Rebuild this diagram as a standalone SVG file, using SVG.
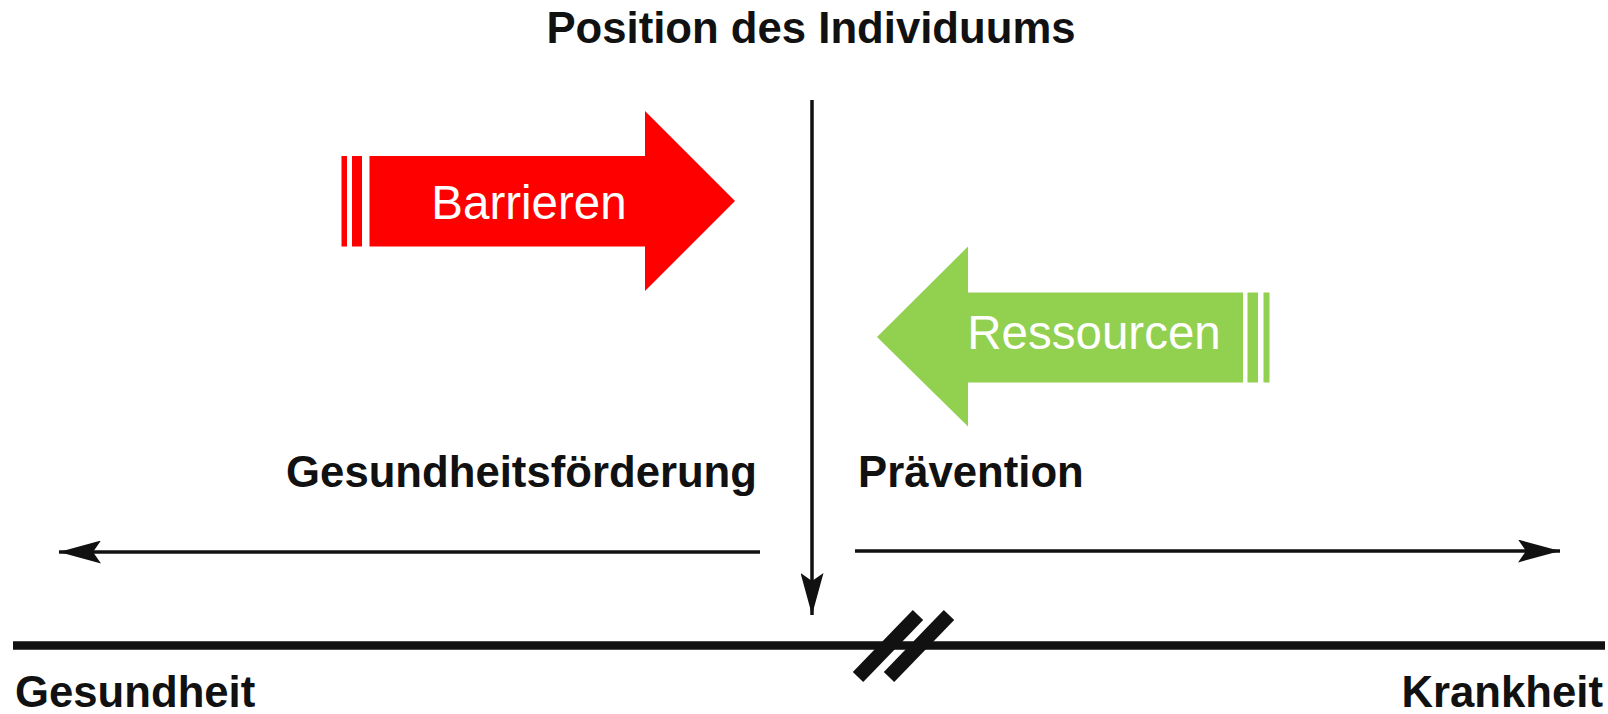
<svg xmlns="http://www.w3.org/2000/svg" width="1608" height="714" viewBox="0 0 1608 714">
<style>
.lbl{font-family:"Liberation Sans",Arial,sans-serif;font-weight:bold;font-size:43.7px;fill:#111}
.wht{font-family:"Liberation Sans",Arial,sans-serif;font-size:47.5px;fill:#fff}
.ln{stroke:#111;stroke-width:3.5;fill:none}
</style>
<defs>
<marker id="ahb" viewBox="0 0 42 23" refX="42" refY="11.5" markerWidth="42" markerHeight="23" markerUnits="userSpaceOnUse" orient="auto">
<path d="M0,0 L42,11.5 L0,23 L8,11.5 Z" fill="#111"/>
</marker>
</defs>
<rect width="1608" height="714" fill="#fff"/>
<g id="title"><text class="lbl" x="811" y="43" text-anchor="middle">Position des Individuums</text></g>
<g id="barrieren">
<rect x="341.5" y="156" width="5.5" height="90.5" fill="#ff0000"/>
<rect x="352" y="156" width="10" height="90.5" fill="#ff0000"/>
<path d="M369.5,156 H645 V111 L735,201 L645,291 V246.5 H369.5 Z" fill="#ff0000"/>
<text class="wht" x="529" y="218.5" text-anchor="middle">Barrieren</text>
</g>
<g id="ressourcen">
<path d="M1243,292.5 H968 V246.5 L877,337 L968,426.5 V382.5 H1243 Z" fill="#92d050"/>
<rect x="1247.5" y="292.5" width="10.5" height="90" fill="#92d050"/>
<rect x="1263.5" y="292.5" width="6" height="90" fill="#92d050"/>
<text class="wht" x="1094" y="349" text-anchor="middle">Ressourcen</text>
</g>
<g id="gesundheitsfoerderung"><text class="lbl" x="757" y="487" text-anchor="end">Gesundheitsförderung</text></g>
<g id="praevention"><text class="lbl" x="858" y="487">Prävention</text></g>
<g id="gesundheit"><text class="lbl" x="15" y="707">Gesundheit</text></g>
<g id="krankheit"><text class="lbl" x="1603" y="707" text-anchor="end">Krankheit</text></g>
<g id="axis">
<line x1="13" y1="645.5" x2="1605" y2="645.5" stroke="#111" stroke-width="8.5"/>
<line x1="858" y1="677" x2="918" y2="615" stroke="#111" stroke-width="14.5"/>
<line x1="889" y1="677" x2="949" y2="615" stroke="#111" stroke-width="14.5"/>
</g>
<g id="connectors">
<line class="ln" x1="812" y1="100" x2="812" y2="615" marker-end="url(#ahb)"/>
<line class="ln" x1="760" y1="552" x2="59" y2="552" marker-end="url(#ahb)"/>
<line class="ln" x1="855" y1="551" x2="1560" y2="551" marker-end="url(#ahb)"/>
</g>
</svg>
